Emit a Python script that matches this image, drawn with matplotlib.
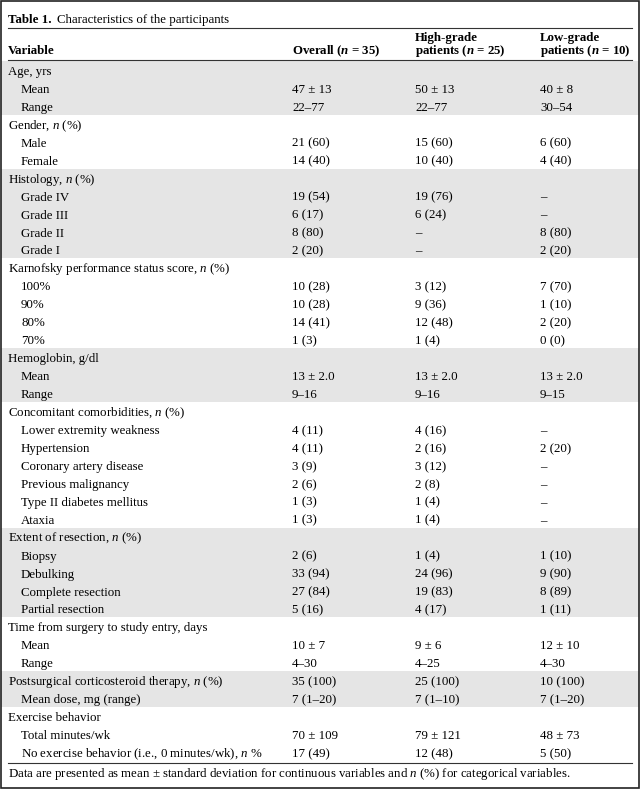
import matplotlib.pyplot as plt
from matplotlib.patches import Rectangle

plt.rcParams['font.family'] = 'Liberation Serif'
plt.rcParams['mathtext.fontset'] = 'custom'
plt.rcParams['mathtext.rm'] = 'Liberation Serif'
plt.rcParams['mathtext.it'] = 'Liberation Serif:italic'
plt.rcParams['mathtext.bf'] = 'Liberation Serif:bold'
plt.rcParams['mathtext.bfit'] = 'Liberation Serif:bold:italic'

# table content
title_bold = "Table 1."
title_rest = "Characteristics of the participants"
col_head1 = ["", "", "High-grade", "Low-grade"]
col_head2 = ["Variable", r"Overall ($\mathbfit{n}$ = 35)",
             r"patients ($\mathbfit{n}$ = 25)", r"patients ($\mathbfit{n}$ = 10)"]

labels = ["Age, yrs", "Mean", "Range",
          r"Gender, $\it{n}$ (%)", "Male", "Female",
          r"Histology, $\it{n}$ (%)", "Grade IV", "Grade III", "Grade II", "Grade I",
          r"Karnofsky performance status score, $\it{n}$ (%)", "100%", "90%", "80%", "70%",
          "Hemoglobin, g/dl", "Mean", "Range",
          r"Concomitant comorbidities, $\it{n}$ (%)", "Lower extremity weakness", "Hypertension",
          "Coronary artery disease", "Previous malignancy", "Type II diabetes mellitus", "Ataxia",
          r"Extent of resection, $\it{n}$ (%)", "Biopsy", "Debulking", "Complete resection",
          "Partial resection",
          "Time from surgery to study entry, days", "Mean", "Range",
          r"Postsurgical corticosteroid therapy, $\it{n}$ (%)", "Mean dose, mg (range)",
          "Exercise behavior", "Total minutes/wk",
          r"No exercise behavior (i.e., 0 minutes/wk), $\it{n}$ %"]
indent = [0, 1, 1, 0, 1, 1, 0, 1, 1, 1, 1, 0, 1, 1, 1, 1, 0, 1, 1,
          0, 1, 1, 1, 1, 1, 1, 0, 1, 1, 1, 1, 0, 1, 1, 0, 1, 0, 1, 1]
overall = ["", "47 ± 13", "22–77", "", "21 (60)", "14 (40)",
           "", "19 (54)", "6 (17)", "8 (80)", "2 (20)",
           "", "10 (28)", "10 (28)", "14 (41)", "1 (3)",
           "", "13 ± 2.0", "9–16",
           "", "4 (11)", "4 (11)", "3 (9)", "2 (6)", "1 (3)", "1 (3)",
           "", "2 (6)", "33 (94)", "27 (84)", "5 (16)",
           "", "10 ± 7", "4–30", "35 (100)", "7 (1–20)",
           "", "70 ± 109", "17 (49)"]
high = ["", "50 ± 13", "22–77", "", "15 (60)", "10 (40)",
        "", "19 (76)", "6 (24)", "–", "–",
        "", "3 (12)", "9 (36)", "12 (48)", "1 (4)",
        "", "13 ± 2.0", "9–16",
        "", "4 (16)", "2 (16)", "3 (12)", "2 (8)", "1 (4)", "1 (4)",
        "", "1 (4)", "24 (96)", "19 (83)", "4 (17)",
        "", "9 ± 6", "4–25", "25 (100)", "7 (1–10)",
        "", "79 ± 121", "12 (48)"]
low = ["", "40 ± 8", "30–54", "", "6 (60)", "4 (40)",
       "", "–", "–", "8 (80)", "2 (20)",
       "", "7 (70)", "1 (10)", "2 (20)", "0 (0)",
       "", "13 ± 2.0", "9–15",
       "", "–", "2 (20)", "–", "–", "–", "–",
       "", "1 (10)", "9 (90)", "8 (89)", "1 (11)",
       "", "12 ± 10", "4–30", "10 (100)", "7 (1–20)",
       "", "48 ± 73", "5 (50)"]
shaded = [(0, 2), (6, 10), (16, 18), (26, 30), (34, 35)]
footnote = (r"Data are presented as mean ± standard deviation for continuous "
            r"variables and $\it{n}$ (%) for categorical variables.")

W, H = 640, 789
fig = plt.figure(figsize=(W / 100, H / 100), dpi=100)
ax = fig.add_axes([0, 0, 1, 1])
ax.set_xlim(0, W)
ax.set_ylim(H, 0)
ax.axis('off')

fs = 9.3
x_cols = [8, 292, 415, 540]
x_ind = 21
top = 61
pitch = 17.95
base = 5  # baseline offset below row centre

# shaded bands
for a, b in shaded:
    ax.add_patch(Rectangle((1, top + a * pitch), W - 2, (b - a + 1) * pitch,
                           facecolor='#e5e5e5', edgecolor='none', zorder=0))

# outer frame
ax.add_patch(Rectangle((0.5, 0.5), W - 1.5, H - 1.5, fill=False,
                       edgecolor='#222222', lw=1.2, zorder=3))

# title
t = ax.text(8, 23, title_bold, fontsize=fs, fontweight='bold', va='baseline')
fig.canvas.draw()
bb = t.get_window_extent().transformed(ax.transData.inverted())
ax.text(bb.x1 + 5, 23, title_rest, fontsize=fs, va='baseline')
ax.plot([8, 632], [27.5, 27.5], color='#333333', lw=0.8)

# header
for j in range(4):
    if col_head1[j]:
        ax.text(x_cols[j], 41, col_head1[j], fontsize=fs, fontweight='bold', va='baseline')
    ax.text(x_cols[j], 54, col_head2[j], fontsize=fs, fontweight='bold', va='baseline')
ax.plot([8, 632], [59.5, 59.5], color='#333333', lw=0.8)

# rows
for i, lab in enumerate(labels):
    y = top + (i + 0.5) * pitch + base
    ax.text(x_ind if indent[i] else x_cols[0], y, lab, fontsize=fs, va='baseline')
    for x, col in zip(x_cols[1:], [overall, high, low]):
        if col[i]:
            ax.text(x, y, col[i], fontsize=fs, va='baseline')

y_end = top + len(labels) * pitch
ax.plot([8, 632], [y_end + 1.5, y_end + 1.5], color='#333333', lw=0.8)
ax.text(8, y_end + 16, footnote, fontsize=fs, va='baseline')

fig.savefig('out.png', dpi=100)
